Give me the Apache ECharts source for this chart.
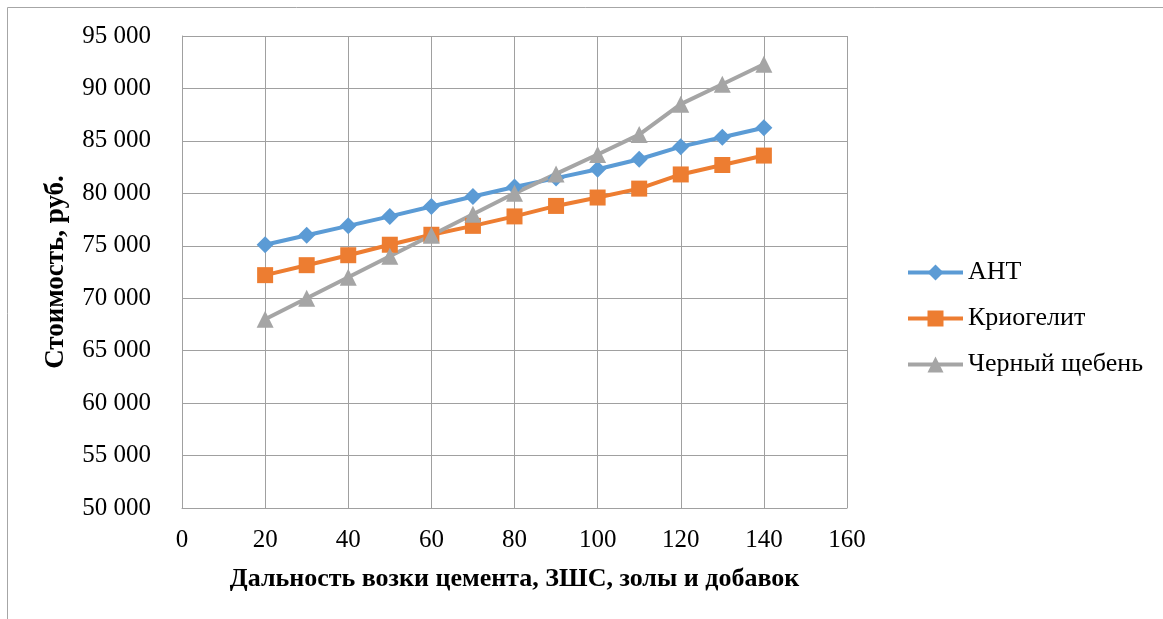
<!DOCTYPE html>
<html>
<head>
<meta charset="utf-8">
<script src="https://cdn.jsdelivr.net/npm/echarts@6/dist/echarts.min.js"></script>
<style>
html,body{margin:0;padding:0;background:#fff;}
#chart{width:1163px;height:619px;}
</style>
</head>
<body>
<div id="chart"></div>
<script>
const distances = [20, 30, 40, 50, 60, 70, 80, 90, 100, 110, 120, 130, 140];
const seriesNames = ['АНТ', 'Криогелит', 'Черный щебень'];
const antValues = [75100, 76000, 76900, 77800, 78750, 79700, 80600, 81450, 82300, 83250, 84450, 85350, 86250];
const kriogelitValues = [72200, 73150, 74100, 75100, 76050, 76900, 77800, 78800, 79600, 80450, 81800, 82700, 83600];
const shchebenValues = [68000, 70000, 72000, 74000, 76000, 78000, 80000, 81850, 83700, 85600, 88500, 90400, 92300];
const xTitle = 'Дальность возки цемента, ЗШС, золы и добавок';
const yTitle = 'Стоимость, руб.';

const font = '"Liberation Serif", "Times New Roman", serif';
const gridColor = '#a0a0a0';
function pairs(vals){ return distances.map((d,i)=>[d, vals[i]]); }
function fmt(v){ return String(v).replace(/\B(?=(\d{3})+(?!\d))/g, ' '); }

const chart = echarts.init(document.getElementById('chart'), null, {renderer:'canvas'});
const lineSeries = (name, vals, color, symbol, size) => ({
  name, type:'line', data: pairs(vals),
  symbol, symbolSize: size,
  lineStyle:{color, width:4},
  itemStyle:{color},
  emphasis:{disabled:true},
  animation:false
});
chart.setOption({
  backgroundColor:'#fff',
  animation:false,
  graphic:[{type:'rect', shape:{x:7.5, y:7.5, width:1300, height:800}, style:{fill:'none', stroke:'#a6a6a6', lineWidth:1}, silent:true}],
  grid:{left:182, right:316, top:36, bottom:111, containLabel:false},
  legend:{
    orient:'vertical', left:906, top:259, padding:0, itemGap:19, itemWidth:55, itemHeight:20,
    lineStyle:{width:4},
    textStyle:{fontFamily:font, fontSize:26, lineHeight:27, color:'#000'},
    data: seriesNames
  },
  xAxis:{
    type:'value', min:0, max:160, interval:20,
    name:xTitle, nameLocation:'middle', nameGap:58,
    nameTextStyle:{fontFamily:font, fontSize:26, fontWeight:'bold', color:'#000'},
    axisLine:{show:true, lineStyle:{color:gridColor, width:1}},
    axisTick:{show:false},
    axisLabel:{fontFamily:font, fontSize:25, color:'#000', margin:20},
    splitLine:{show:true, lineStyle:{color:gridColor, width:1}}
  },
  yAxis:{
    type:'value', min:50000, max:95000, interval:5000,
    name:yTitle, nameLocation:'middle', nameGap:112, nameRotate:90,
    nameTextStyle:{fontFamily:font, fontSize:27, fontWeight:'bold', color:'#000'},
    axisLine:{show:true, lineStyle:{color:gridColor, width:1}},
    axisTick:{show:false},
    axisLabel:{fontFamily:font, fontSize:25, color:'#000', margin:31, formatter: fmt},
    splitLine:{show:true, lineStyle:{color:gridColor, width:1}}
  },
  series:[
    lineSeries(seriesNames[0], antValues, '#5B9BD5', 'diamond', 17),
    lineSeries(seriesNames[1], kriogelitValues, '#ED7D31', 'rect', 16),
    lineSeries(seriesNames[2], shchebenValues, '#A5A5A5', 'triangle', 17)
  ]
});
</script>
</body>
</html>
